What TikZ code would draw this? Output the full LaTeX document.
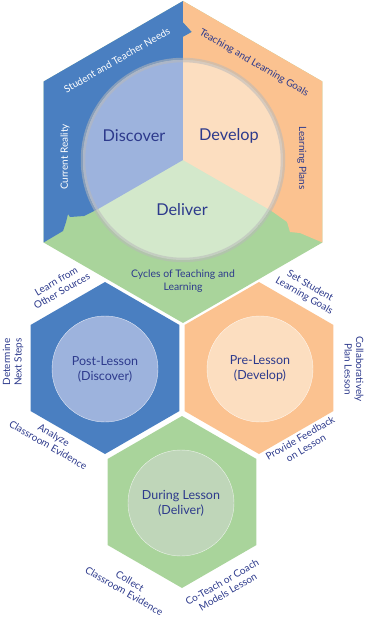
\documentclass[tikz,border=0pt]{standalone}
\usepackage{fontspec}
\setmainfont{Lato}
\usetikzlibrary{positioning}

\definecolor{hexblue}{HTML}{4A7FC1}
\definecolor{hexorange}{HTML}{FBC290}
\definecolor{hexgreen}{HTML}{A9D49B}
\definecolor{lightblue}{HTML}{9DB3DD}
\definecolor{lightorange}{HTML}{FCDEC0}
\definecolor{lightgreen}{HTML}{D3E8CB}
\definecolor{dullgreen}{HTML}{BFD6B9}
\definecolor{navy}{HTML}{2D3A8C}

\begin{document}
\begin{tikzpicture}[x=1pt, y=-1pt,
    lbl/.style={text=navy, font=\fontsize{10}{11.5}\selectfont, align=center, inner sep=0pt},
    side/.style={font=\fontsize{10}{12}\selectfont, inner sep=0pt},
    phase/.style={text=navy, font=\fontsize{16.3}{18}\selectfont, inner sep=0pt},
    lesson/.style={circle, minimum size=106pt, inner sep=0pt, align=center,
        text=navy, font=\fontsize{12.5}{15}\selectfont},
    ring/.style={draw=gray!55, line width=4.5pt, opacity=0.55}
]
\useasboundingbox (0,0) rectangle (367,618);

% big hexagon corners
\coordinate (ctr) at (183,160);
\coordinate (top) at (183,1);
\coordinate (ul) at (43.6,81.5);
\coordinate (ll) at (43.6,242.5);
\coordinate (bot) at (183,323);
\coordinate (lr) at (322.4,242.5);
\coordinate (ur) at (322.4,81.5);

% green base, blue and orange on top
\fill[hexgreen] (top) -- (ur) -- (lr) -- (bot) -- (ll) -- (ul) -- cycle;
\fill[hexblue] (top) -- (183,22) -- (192,32) -- (183,37) -- (ctr) -- (96,210)
    -- (84,216) -- (70,217) -- (68,214) -- (66,222) -- (63,231) -- (ll) -- (ul) -- cycle;
\fill[hexorange] (top) -- (ur) -- (lr) -- (300,233) -- (290,232) -- (287,222)
    -- (273,212) -- (ctr) -- (183,37) -- (192,32) -- (183,22) -- cycle;

% light circle inside
\begin{scope}
\clip (ctr) circle (100);
\fill[lightgreen] (ctr) circle (100);
\fill[lightblue] (ctr) -- (183,40) -- (60,40) -- (60,231) -- cycle;
\fill[lightorange] (ctr) -- (183,40) -- (310,40) -- (310,233) -- cycle;
\end{scope}
\draw[ring] (ctr) circle (100);

% phase names
\node[phase] (discover) at (134,136) {Discover};
\node[phase] (develop) at (229,136) {Develop};
\node[phase] (deliver) at (182,210) {Deliver};

% edge texts of the big hexagon
\node[side, text=white, rotate=30] (needs) at (117,60) {Student and Teacher Needs};
\node[side, text=navy, rotate=-30] (goals) at (254,63) {Teaching and Learning Goals};
\node[side, text=white, rotate=90] (reality) at (65,157) {Current Reality};
\node[side, text=navy, rotate=-90] (plans) at (302,158) {Learning Plans};
\node[lbl, font=\fontsize{10.4}{12.5}\selectfont] (cycles) at (183,281) {Cycles of Teaching and\\Learning};

% small hexagons
\fill[hexblue] (105,368) +(30:86) -- +(90:86) -- +(150:86) -- +(210:86) -- +(270:86) -- +(330:86) -- cycle;
\fill[hexorange] (259,368) +(30:86) -- +(90:86) -- +(150:86) -- +(210:86) -- +(270:86) -- +(330:86) -- cycle;
\fill[hexgreen] (182,502) +(30:86) -- +(90:86) -- +(150:86) -- +(210:86) -- +(270:86) -- +(330:86) -- cycle;

% lesson circles
\node[lesson, fill=lightblue, draw=white!70!lightblue] (post) at (105,369) {Post-Lesson\\(Discover)};
\node[lesson, fill=lightorange, draw=white!70!lightorange] (pre) at (260,369) {Pre-Lesson\\(Develop)};
\node[lesson, fill=dullgreen, draw=white!70!dullgreen] (during) at (181,503) {During Lesson\\(Deliver)};

% steps round the small hexagons
\node[lbl, rotate=30] (learn) at (59,286) {Learn from\\Other Sources};
\node[lbl, rotate=90] (determine) at (13,362) {Determine\\Next Steps};
\node[lbl, rotate=-30] (analyze) at (51,440) {Analyze\\Classroom Evidence};
\node[lbl, rotate=-30] (setgoals) at (307,291) {Set Student\\Learning Goals};
\node[lbl, rotate=-90] (collab) at (354,369) {Collaboratively\\Plan Lesson};
\node[lbl, rotate=30] (feedback) at (303,443) {Provide Feedback\\on Lesson};
\node[lbl, rotate=-30] (collect) at (127,586) {Collect\\Classroom Evidence};
\node[lbl, rotate=30] (coteach) at (225,587) {Co-Teach or Coach\\Models Lesson};
\end{tikzpicture}
\end{document}
